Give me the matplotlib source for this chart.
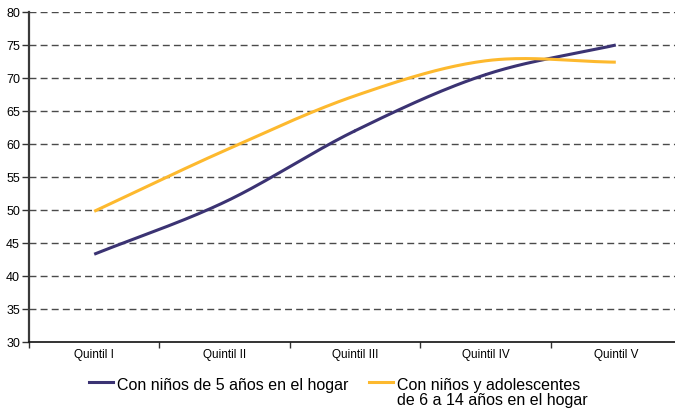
import numpy as np
import matplotlib
matplotlib.use("Agg")
import matplotlib.pyplot as plt
from matplotlib.lines import Line2D

plt.rcParams['font.family'] = ['Liberation Sans', 'DejaVu Sans']

quintiles = ["Quintil I", "Quintil II", "Quintil III", "Quintil IV", "Quintil V"]
ninos_5 = [43.3, 51.2, 62.0, 70.5, 75.0]
ninos_6_14 = [49.8, 59.0, 67.3, 72.6, 72.4]

label_5 = "Con niños de 5 años en el hogar"
label_6_14 = "Con niños y adolescentes\nde 6 a 14 años en el hogar"

BLUE = "#3b3373"
ORANGE = "#fdb92e"


def smooth(x, y, n=40):
    # Catmull-Rom curve through the points, like a smoothed office line
    x = np.asarray(x, float)
    y = np.asarray(y, float)
    px = np.concatenate([[2 * x[0] - x[1]], x, [2 * x[-1] - x[-2]]])
    py = np.concatenate([[2 * y[0] - y[1]], y, [2 * y[-1] - y[-2]]])
    xs, ys = [], []
    t = np.linspace(0, 1, n)
    for i in range(1, len(px) - 2):
        for p, out in ((px, xs), (py, ys)):
            p0, p1, p2, p3 = p[i - 1], p[i], p[i + 1], p[i + 2]
            out.extend(0.5 * ((2 * p1) + (-p0 + p2) * t
                              + (2 * p0 - 5 * p1 + 4 * p2 - p3) * t ** 2
                              + (-p0 + 3 * p1 - 3 * p2 + p3) * t ** 3))
    return np.array(xs), np.array(ys)


fig = plt.figure(figsize=(6.75, 4.1), dpi=100)
W, H = 675, 410
left, right, top, bottom = 29, 681, 13, 343
ax = fig.add_axes([left / W, 1 - bottom / H, (right - left) / W, (bottom - top) / H])

x = np.arange(len(quintiles))
for vals, col in ((ninos_5, BLUE), (ninos_6_14, ORANGE)):
    sx, sy = smooth(x, vals)
    ax.plot(sx, sy, color=col, lw=2.2, solid_capstyle='butt', zorder=3)

ax.set_xlim(-0.5, len(quintiles) - 0.5)
ax.set_ylim(30, 80)
ax.set_yticks(np.arange(30, 81, 5))
for yv in np.arange(35, 81, 5):
    ax.axhline(yv, color="#4a4a4a", lw=1.0, ls=(0, (5, 3)), zorder=1)

# category labels centred, tick marks on the boundaries
ax.set_xticks(x)
ax.set_xticklabels(quintiles, fontsize=8.5)
ax.set_xticks(np.arange(-0.5, len(quintiles), 1), minor=True)
ax.tick_params(axis='x', which='major', length=0, pad=4)
ax.tick_params(axis='x', which='minor', length=4, width=1, color="#333333", direction='out')
ax.tick_params(axis='y', labelsize=9, length=5, width=1, color="#333333", pad=1.5)

for s in ("top", "right"):
    ax.spines[s].set_visible(False)
ax.spines["left"].set_color("#3a3a3a")
ax.spines["left"].set_linewidth(1.6)
ax.spines["bottom"].set_color("#111111")
ax.spines["bottom"].set_linewidth(1.2)

# legend below the axes
ly = 1 - 383 / H
base1 = 1 - 390 / H
base2 = 1 - 405 / H
fig.add_artist(Line2D([89 / W, 113 / W], [ly, ly], color=BLUE, lw=2.2, transform=fig.transFigure))
fig.text(117 / W, base1, label_5, fontsize=11.5, va='baseline', ha='left')
fig.add_artist(Line2D([369 / W, 393 / W], [ly, ly], color=ORANGE, lw=2.2, transform=fig.transFigure))
line_a, line_b = label_6_14.split("\n")
fig.text(397 / W, base1, line_a, fontsize=11.5, va='baseline', ha='left')
fig.text(397 / W, base2, line_b, fontsize=11.5, va='baseline', ha='left')

fig.savefig("out.png", dpi=100)
